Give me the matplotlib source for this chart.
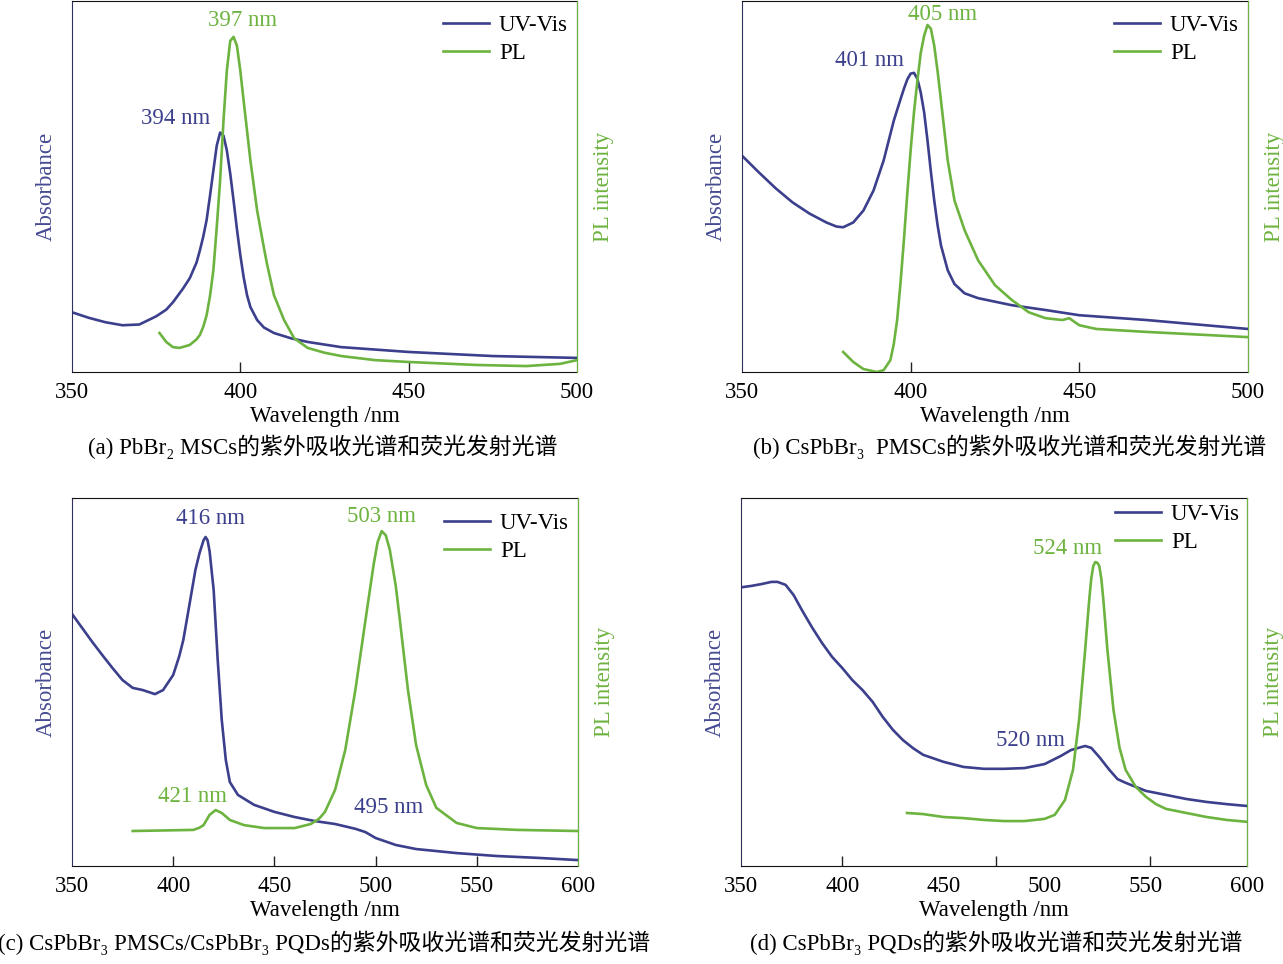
import numpy as np
import matplotlib
matplotlib.use("Agg")
import matplotlib.pyplot as plt
from matplotlib.lines import Line2D

plt.rcParams["font.family"] = ["Liberation Serif", "DejaVu Serif", "Noto Sans CJK SC"]
FS = 16.5
plt.rcParams["font.size"] = FS

BLUE = "#3b3f8c"
GREEN = "#6db33f"

# -------------------------------------------------------------------------
# DATA (normalised intensity)
# -------------------------------------------------------------------------
# (a) PbBr2 MSCs
a_uv_x = [350, 355, 360, 365, 370, 375, 378, 380, 383, 385, 387, 388, 389, 390, 391,
          392, 393, 394, 395, 396, 397, 398, 399, 400, 401, 402, 403, 405, 407, 410,
          415, 420, 430, 450, 475, 500]
a_uv_y = [0.161, 0.146, 0.134, 0.126, 0.128, 0.150, 0.168, 0.188, 0.225, 0.253, 0.295,
          0.328, 0.365, 0.410, 0.475, 0.543, 0.610, 0.645, 0.637, 0.597, 0.535, 0.462,
          0.385, 0.315, 0.255, 0.207, 0.175, 0.140, 0.120, 0.105, 0.091, 0.081, 0.067,
          0.054, 0.043, 0.038]
a_pl_x = [376, 378, 380, 382, 385, 387, 388, 389, 390, 391, 392, 393, 394, 395, 396,
          397, 398, 399, 400, 401, 402, 403, 405, 407, 408, 410, 413, 416, 420, 425,
          430, 440, 450, 470, 485, 495, 500]
a_pl_y = [0.105, 0.081, 0.067, 0.065, 0.073, 0.088, 0.100, 0.122, 0.153, 0.205, 0.274,
          0.390, 0.516, 0.677, 0.812, 0.892, 0.903, 0.879, 0.812, 0.730, 0.650, 0.570,
          0.435, 0.335, 0.288, 0.207, 0.140, 0.091, 0.065, 0.052, 0.043, 0.032, 0.027,
          0.019, 0.016, 0.022, 0.032]

# (b) CsPbBr3 PMSCs
b_uv_x = [350, 355, 360, 365, 370, 375, 378, 380, 383, 386, 389, 392, 395, 397, 398,
          399, 400, 401, 402, 403, 404, 405, 406, 407, 408, 409, 411, 413, 416, 420,
          430, 440, 450, 470, 490, 500]
b_uv_y = [0.583, 0.538, 0.495, 0.457, 0.427, 0.403, 0.392, 0.390, 0.403, 0.435, 0.489,
          0.570, 0.677, 0.735, 0.763, 0.788, 0.804, 0.806, 0.790, 0.753, 0.700, 0.624,
          0.540, 0.462, 0.395, 0.341, 0.274, 0.237, 0.212, 0.199, 0.180, 0.167, 0.153,
          0.140, 0.124, 0.116]
b_pl_x = [380, 383, 386, 390, 392, 394, 395, 396, 397, 398, 399, 400, 401, 402, 403,
          404, 405, 406, 407, 408, 409, 411, 413, 416, 420, 425, 430, 435, 440, 445,
          447, 450, 455, 470, 500]
b_pl_y = [0.054, 0.027, 0.008, 0.000, 0.005, 0.032, 0.075, 0.140, 0.240, 0.355, 0.480,
          0.597, 0.700, 0.785, 0.860, 0.906, 0.935, 0.925, 0.879, 0.810, 0.731, 0.570,
          0.462, 0.382, 0.301, 0.234, 0.194, 0.161, 0.145, 0.140, 0.145, 0.126, 0.116,
          0.108, 0.094]

# (c) CsPbBr3 PMSCs/CsPbBr3 PQDs
c_uv_x = [350, 355, 360, 365, 370, 375, 380, 385, 391, 395, 400, 403, 405, 408, 411,
          413, 415, 416, 417, 418, 420, 422, 424, 426, 428, 432, 440, 450, 460, 470,
          480, 490, 495, 500, 510, 520, 540, 560, 580, 600]
c_uv_y = [0.685, 0.647, 0.609, 0.573, 0.538, 0.505, 0.484, 0.478, 0.467, 0.478, 0.519,
          0.570, 0.614, 0.709, 0.805, 0.850, 0.885, 0.894, 0.885, 0.855, 0.750, 0.560,
          0.397, 0.288, 0.228, 0.193, 0.166, 0.147, 0.133, 0.122, 0.114, 0.101, 0.092,
          0.076, 0.057, 0.046, 0.035, 0.027, 0.022, 0.016]
c_pl_x = [380, 410, 413, 415, 418, 421, 424, 428, 435, 445, 460, 468, 472, 475, 480,
          485, 490, 495, 499, 501, 503, 505, 507, 510, 512, 516, 520, 525, 530, 540,
          550, 570, 600]
c_pl_y = [0.095, 0.098, 0.104, 0.111, 0.139, 0.152, 0.144, 0.125, 0.111, 0.103, 0.103,
          0.114, 0.128, 0.147, 0.207, 0.315, 0.478, 0.668, 0.818, 0.880, 0.910, 0.899,
          0.860, 0.760, 0.668, 0.478, 0.329, 0.220, 0.158, 0.117, 0.103, 0.098, 0.095]

# (d) CsPbBr3 PQDs
d_uv_x = [351, 355, 360, 365, 368, 372, 376, 380, 385, 390, 395, 400, 405, 410, 415,
          420, 425, 430, 435, 440, 450, 460, 470, 480, 490, 500, 508, 513, 518, 520,
          523, 527, 532, 536, 540, 550, 560, 570, 580, 590, 600]
d_uv_y = [0.758, 0.761, 0.766, 0.772, 0.772, 0.764, 0.736, 0.696, 0.649, 0.606, 0.568,
          0.538, 0.505, 0.478, 0.446, 0.405, 0.370, 0.342, 0.320, 0.302, 0.283, 0.269,
          0.264, 0.264, 0.266, 0.277, 0.299, 0.315, 0.323, 0.326, 0.321, 0.296, 0.261,
          0.236, 0.226, 0.204, 0.193, 0.182, 0.174, 0.168, 0.163]
d_pl_x = [432, 440, 450, 460, 470, 480, 490, 500, 505, 510, 514, 517, 520, 522, 523,
          524, 525, 526, 527, 528, 529, 531, 534, 537, 540, 545, 550, 555, 560, 570,
          580, 590, 600]
d_pl_y = [0.144, 0.141, 0.133, 0.130, 0.125, 0.122, 0.122, 0.128, 0.139, 0.179, 0.261,
          0.397, 0.587, 0.723, 0.780, 0.815, 0.826, 0.824, 0.815, 0.780, 0.723, 0.587,
          0.424, 0.321, 0.261, 0.215, 0.188, 0.168, 0.155, 0.144, 0.133, 0.125, 0.120]

panels = [
    dict(rect=[0.0561, 0.6141, 0.3936, 0.3850], xlim=(350, 500),
         uv=(a_uv_x, a_uv_y), pl=(a_pl_x, a_pl_y),
         notes=[("394 nm", 380.8, 0.683, BLUE), ("397 nm", 400.7, 0.946, GREEN)],
         marks=[400, 450], leg=(0.982, 0.963), ylab=(-0.03, 1.032),
         caption="(a) PbBr\u2082 MSCs的紫外吸收光谱和荧光发射光谱", cap=(0.2518, 0.537)),
    dict(rect=[0.5783, 0.6141, 0.3944, 0.3850], xlim=(350, 500),
         uv=(b_uv_x, b_uv_y), pl=(b_pl_x, b_pl_y),
         notes=[("401 nm", 387.9, 0.839, BLUE), ("405 nm", 409.6, 0.962, GREEN)],
         marks=[400, 450], leg=(0.982, 0.963), ylab=(-0.03, 1.032),
         caption="(b) CsPbBr\u2083  PMSCs的紫外吸收光谱和荧光发射光谱", cap=(0.7872, 0.537)),
    dict(rect=[0.0561, 0.1017, 0.3944, 0.3817], xlim=(350, 600),
         uv=(c_uv_x, c_uv_y), pl=(c_pl_x, c_pl_y),
         notes=[("416 nm", 418.2, 0.943, BLUE), ("503 nm", 502.7, 0.951, GREEN),
                ("421 nm", 409.3, 0.1875, GREEN), ("495 nm", 506.6, 0.158, BLUE)],
         marks=[400, 450, 500, 550], leg=(0.982, 0.958), ylab=(-0.03, 1.032),
         caption="(c) CsPbBr\u2083 PMSCs/CsPbBr\u2083 PQDs的紫外吸收光谱和荧光发射光谱",
         cap=(0.2525, 0.022)),
    dict(rect=[0.5776, 0.1017, 0.3944, 0.3817], xlim=(350, 600),
         uv=(d_uv_x, d_uv_y), pl=(d_pl_x, d_pl_y),
         notes=[("520 nm", 492.8, 0.340, BLUE), ("524 nm", 511.1, 0.864, GREEN)],
         marks=[400, 476, 552], leg=(0.986, 0.984), ylab=(-0.03, 1.032),
         caption="(d) CsPbBr\u2083 PQDs的紫外吸收光谱和荧光发射光谱", cap=(0.7763, 0.022)),
]

fig = plt.figure(figsize=(12.83, 9.64), dpi=100)

for p in panels:
    ax = fig.add_axes(p["rect"])
    ax2 = ax.twinx()
    ax.plot(*p["uv"], color=BLUE, lw=1.9, solid_joinstyle="round")
    ax2.plot(*p["pl"], color=GREEN, lw=1.9, solid_joinstyle="round")
    for a in (ax, ax2):
        a.set_xlim(*p["xlim"])
        a.set_ylim(0, 1)
        a.set_yticks([])

    # labelled ticks without marks
    ax.set_xticks(np.arange(p["xlim"][0], p["xlim"][1] + 1, 50))
    ax.tick_params(axis="x", which="major", length=0, pad=7, labelsize=FS)

    # inward tick marks (not always at the labels)
    sec = ax.secondary_xaxis("bottom")
    sec.set_xticks(p["marks"], labels=[])
    sec.tick_params(axis="x", direction="in", length=7, width=1, color="#222222")
    sec.spines["bottom"].set_visible(False)

    ax.set_xlabel("Wavelength /nm", labelpad=2.5, fontsize=FS)
    ax.set_ylabel("Absorbance", color="#464b92", fontsize=FS)
    ax2.set_ylabel("PL intensity", color=GREEN, fontsize=FS)
    ax.yaxis.set_label_coords(p["ylab"][0], 0.5)
    ax2.yaxis.set_label_coords(p["ylab"][1], 0.5)

    for s in ("top", "bottom"):
        ax.spines[s].set_color("#111111")
    ax.spines["left"].set_color("#2e3160")
    ax2.spines["right"].set_color(GREEN)
    for s in ("left", "top", "bottom"):
        ax2.spines[s].set_visible(False)

    for txt, x, y, c in p["notes"]:
        ax.text(x, y, txt, color=c, ha="center", va="center", fontsize=FS)

    handles = [Line2D([], [], color=BLUE, lw=1.9), Line2D([], [], color=GREEN, lw=1.9)]
    ax2.legend(handles, ["UV-Vis", "PL"], loc="upper right", bbox_to_anchor=p["leg"],
               frameon=False, borderpad=0, borderaxespad=0, handlelength=2.0,
               handletextpad=0.45, labelspacing=0.3, fontsize=FS)

    fig.text(p["cap"][0], p["cap"][1], p["caption"], ha="center", va="center", fontsize=FS)

fig.savefig("out.png", dpi=100)
